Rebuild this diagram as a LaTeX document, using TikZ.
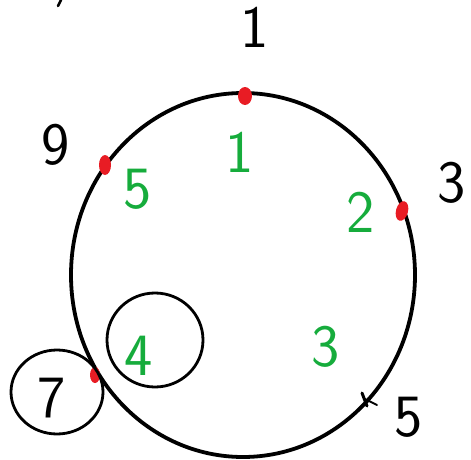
\documentclass[tikz,border=0pt]{standalone}
\usepackage{xcolor}
\usepackage{tikz}
\usetikzlibrary{calc, shapes.geometric, positioning}

\definecolor{butdo}{RGB}{232,28,36}
\definecolor{butxanh}{RGB}{22,172,60}

\begin{document}
\begin{tikzpicture}[x=1pt, y=-1pt, line cap=round,
    so/.style={font=\fontsize{60}{60}\selectfont\sffamily, inner sep=0pt},
    soxanh/.style={so, text=butxanh},
    vong/.style={draw, ellipse, line width=2.8pt, inner sep=0pt}]
    \useasboundingbox (0,0) rectangle (471,460);

    % Vòng tròn lớn
    \draw[line width=3.8pt] (243,275) ellipse [x radius=172pt, y radius=182pt];

    % Các điểm đánh dấu trên vòng tròn
    \fill[butdo] (245,96) ellipse [x radius=7pt, y radius=9pt];
    \fill[butdo] (105,165) ellipse [x radius=6pt, y radius=10pt];
    \fill[butdo, rotate around={-15:(402,211)}] (402,211) ellipse [x radius=6pt, y radius=10pt];
    \fill[butdo] (95,375) ellipse [x radius=5pt, y radius=8pt];
    \coordinate (dau5) at (365,399);
    \draw[line width=3pt] ($(dau5)+(-3,-6)$) -- ($(dau5)+(2,7)$);
    \draw[line width=1.8pt] (dau5) -- ++(12,6);

    % Hai vòng tròn nhỏ
    \node[vong, minimum width=92pt, minimum height=84pt] (vong7) at (57,392) {};
    \node[vong, minimum width=96pt, minimum height=94pt] (vong4) at (155,340) {};

    % Các số màu đen bên ngoài
    \node[so] (ngoai1) at (255,27) {1};
    \node[so] (ngoai9) at (56,145) {9};
    \node[so] (ngoai3) at (452,183) {3};
    \node[so] (ngoai5) at (409,417) {5};
    \node[so] (ngoai7) at (52,398) {7};

    % Các số màu xanh bên trong
    \node[soxanh] (trong1) at (240,152) {1};
    \node[soxanh] (trong5) at (138,189) {5};
    \node[soxanh] (trong2) at (361,212) {2};
    \node[soxanh] (trong3) at (326,347) {3};
    \node[soxanh] (trong4) at (139,356) {4};

    % Nét cắt ở góc trên
    \coordinate (netA) at (61,0);
    \coordinate (netB) at (58,6);
    \draw[line width=2.5pt] (netA) -- (netB);
\end{tikzpicture}
\end{document}
